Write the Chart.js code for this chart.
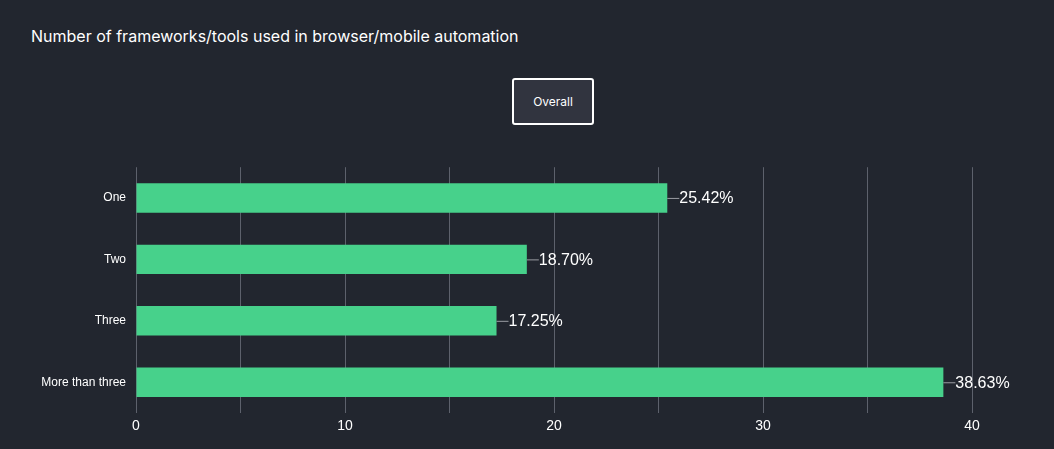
<!DOCTYPE html>
<html>
<head>
<meta charset="utf-8">
<script src="https://cdn.jsdelivr.net/npm/chart.js@4.4.0/dist/chart.umd.min.js"></script>
<style>
  html, body { margin: 0; padding: 0; background: #22262f; width: 1054px; height: 449px; overflow: hidden; font-family: Inter, "Open Sans", sans-serif; }
  #title { position: absolute; left: 31px; top: 26px; color: #ffffff; font-size: 16px; font-family: Inter, sans-serif; }
  #btn { position: absolute; left: 512px; top: 78px; width: 78px; height: 43px; border: 2px solid #ffffff; border-radius: 3px; background: #31343f; color: #fff; font-size: 12px; display: flex; align-items: center; justify-content: center; font-family: Inter, sans-serif; }
  #wrap { position: absolute; left: 0; top: 150px; width: 1054px; height: 299px; }
</style>
</head>
<body>
<div id="title">Number of frameworks/tools used in browser/mobile automation</div>
<div id="btn">Overall</div>
<div id="wrap"><canvas id="c"></canvas></div>
<script>
const categories = ["One", "Two", "Three", "More than three"];
const values = [25.42, 18.70, 17.25, 38.63];
const valueLabels = ["25.42%", "18.70%", "17.25%", "38.63%"];
const xTicks = [0, 10, 20, 30, 40];

const barLabelPlugin = {
  id: 'barLabels',
  afterDatasetsDraw(chart) {
    const ctx = chart.ctx;
    const meta = chart.getDatasetMeta(0);
    ctx.save();
    meta.data.forEach((bar, i) => {
      const x = bar.x, y = bar.y;
      ctx.strokeStyle = '#9a9ca3';
      ctx.lineWidth = 1;
      ctx.beginPath();
      ctx.moveTo(x, y + 0.5);
      ctx.lineTo(x + 12, y + 0.5);
      ctx.stroke();
      ctx.fillStyle = '#ffffff';
      ctx.font = '16px "Liberation Sans", Arial, sans-serif';
      ctx.textAlign = 'left';
      ctx.textBaseline = 'middle';
      ctx.fillText(valueLabels[i], x + 12, y + 1);
    });
    ctx.restore();
  }
};

new Chart(document.getElementById('c'), {
  type: 'bar',
  data: {
    labels: categories,
    datasets: [{
      data: values,
      backgroundColor: '#47d18b',
      borderWidth: 0,
      barPercentage: 0.6,
      categoryPercentage: 0.8
    }]
  },
  options: {
    indexAxis: 'y',
    responsive: true,
    maintainAspectRatio: false,
    animation: false,
    layout: { padding: { top: 15, right: 82, left: 0, bottom: 0 } },
    plugins: { legend: { display: false }, tooltip: { enabled: false } },
    scales: {
      x: {
        min: 0,
        max: 40,
        ticks: {
          stepSize: 5,
          color: '#ffffff',
          font: { size: 14, family: '"Liberation Sans", Arial, sans-serif' },
          padding: 5,
          callback: (v) => xTicks.includes(v) ? String(v) : ''
        },
        grid: { color: '#5d616c', drawTicks: false, lineWidth: 1 },
        border: { display: false },
        afterFit: (s) => { s.height = 36; }
      },
      y: {
        ticks: {
          color: '#ffffff',
          font: { size: 12, family: '"Liberation Sans", Arial, sans-serif' },
          padding: 10
        },
        grid: { display: false, drawTicks: false },
        border: { display: false },
        afterFit: (s) => { s.width = 136; }
      }
    }
  },
  plugins: [barLabelPlugin]
});
</script>
</body>
</html>
